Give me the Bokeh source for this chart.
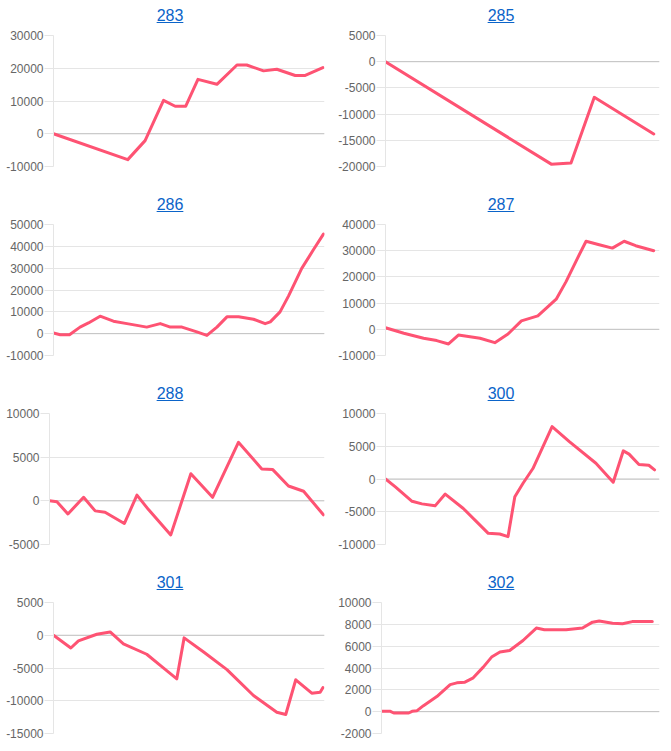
from bokeh.plotting import figure
from bokeh.layouts import column, row
from bokeh.models import Div, Range1d, FixedTicker, PrintfTickFormatter, Span
from bokeh.embed import file_html
from bokeh.resources import INLINE

# ---- data (x = position along the period, 0..100; y = cumulative value) ----
titles = ["283", "285", "286", "287", "288", "300", "301", "302"]

x_283 = [0, 27.4, 33.8, 37.5, 40.6, 44.9, 48.8, 53.3, 60.3, 67.7, 71.3, 77.5, 82.4, 89.2, 92.9, 99.4]
y_283 = [0, -7900, -2100, 4600, 10200, 8400, 8400, 16600, 15100, 21000, 21000, 19200, 19700, 17800, 17800, 20200]
ticks_283 = [-10000, 0, 10000, 20000, 30000]

x_285 = [0, 60.5, 67.7, 76.2, 97.9]
y_285 = [0, -19550, -19350, -6800, -13800]
ticks_285 = [-20000, -15000, -10000, -5000, 0, 5000]

x_286 = [0, 2.5, 5.9, 9.8, 12.9, 17.2, 22.1, 27.1, 30.8, 34.4, 39.4, 43.1, 47.4, 52.9, 56.6,
         60.3, 64.0, 68.3, 73.8, 78.1, 80.0, 83.6, 86.7, 91.6, 95.9, 99.6]
y_286 = [300, -500, -500, 3000, 4900, 8000, 5700, 4600, 3800, 3000, 4600, 3000, 3000, 800, -800,
         3000, 7700, 7700, 6600, 4600, 5400, 10000, 17200, 29900, 38400, 45600]
ticks_286 = [-10000, 0, 10000, 20000, 30000, 40000, 50000]

x_287 = [0, 6.7, 13.9, 18.7, 23.0, 26.6, 34.5, 39.9, 44.7, 49.6, 55.6, 58.6, 62.3, 65.9, 70.1,
         73.2, 78.0, 82.8, 87.1, 91.3, 97.9]
y_287 = [600, -1500, -3400, -4300, -5600, -2200, -3400, -5100, -1800, 3200, 5100, 8000, 11500,
         18200, 27200, 33600, 32300, 31000, 33600, 31900, 30000]
ticks_287 = [-10000, 0, 10000, 20000, 30000, 40000]

x_288 = [0, 2.7, 6.7, 12.4, 16.6, 20.2, 27.2, 31.8, 36.0, 44.1, 51.4, 59.3, 68.7, 77.2, 81.1,
         86.9, 92.4, 99.6]
y_288 = [0, -100, -1500, 400, -1150, -1300, -2600, 650, -1000, -3900, 3100, 400, 6700, 3650,
         3600, 1700, 1100, -1600]
ticks_288 = [-5000, 0, 5000, 10000]

x_300 = [0, 3.6, 9.7, 13.3, 18.1, 21.8, 28.4, 37.5, 41.7, 44.7, 47.2, 50.2, 53.8, 60.8, 67.1,
         76.8, 83.1, 86.8, 88.9, 92.5, 96.1, 98.2]
y_300 = [0, -1200, -3400, -3800, -4100, -2300, -4500, -8300, -8400, -8800, -2700, -650, 1600,
         8000, 5700, 2400, -500, 4300, 3800, 2200, 2100, 1400]
ticks_300 = [-10000, -5000, 0, 5000, 10000]

x_301 = [0, 6.4, 9.2, 16.0, 20.9, 25.8, 34.4, 39.4, 45.5, 48.2, 55.4, 64.0, 73.8, 82.4, 85.7,
         89.4, 95.3, 98.4, 99.4]
y_301 = [0, -1950, -870, 150, 500, -1300, -2900, -4600, -6650, -400, -2550, -5250, -9200,
         -11750, -12100, -6800, -8850, -8700, -8000]
ticks_301 = [-15000, -10000, -5000, 0, 5000]

x_302 = [0, 3.2, 4.4, 9.8, 11.0, 12.8, 15.1, 19.9, 24.7, 27.1, 30.0, 33.0, 36.6, 39.6, 42.6,
         46.1, 50.9, 55.7, 58.6, 66.4, 72.3, 75.9, 78.3, 83.1, 86.7, 90.2, 97.4]
y_302 = [30, 30, -120, -120, 30, 90, 550, 1380, 2480, 2640, 2700, 3100, 4080, 5000, 5460, 5600,
         6520, 7660, 7500, 7500, 7660, 8200, 8300, 8100, 8050, 8250, 8250]
ticks_302 = [-2000, 0, 2000, 4000, 6000, 8000, 10000]

series = [
    (x_283, y_283, ticks_283), (x_285, y_285, ticks_285),
    (x_286, y_286, ticks_286), (x_287, y_287, ticks_287),
    (x_288, y_288, ticks_288), (x_300, y_300, ticks_300),
    (x_301, y_301, ticks_301), (x_302, y_302, ticks_302),
]

# ---- styling / layout ----
LINE = "#fe5373"
GRID = "#e5e5e5"
ZERO = "#c2c2c2"
LABEL = "#666666"
LINK = "#0b64c9"
FONT = "Liberation Sans"

border_left = [53, 48, 53, 48, 49, 48, 53, 44]


def make_cell(i):
    xs, ys, ticks = series[i]
    left_col = (i % 2 == 0)
    w = 335 if left_col else 336
    pad = "padding-left:5px;" if left_col else "padding-right:4px;"
    html = (
        f'<div style="width:{w}px;height:26px;box-sizing:border-box;padding-top:7px;{pad}'
        f"text-align:center;font-family:'{FONT}',Arial,sans-serif;font-size:16px;line-height:18px;\">"
        f'<a href="#" style="color:{LINK};text-decoration:underline;">{titles[i]}</a></div>'
    )
    div = Div(text=html, width=w, height=26, margin=(0, 0, 0, 0))

    p = figure(width=w, height=163, output_backend="svg", toolbar_location=None,
               title=None, x_axis_location=None,
               x_range=Range1d(0, 100), y_range=Range1d(ticks[0], ticks[-1]),
               min_border_left=border_left[i], min_border_right=(11 if left_col else 12),
               min_border_top=9, min_border_bottom=23, margin=(0, 0, 0, 0))
    p.outline_line_color = None
    p.background_fill_color = None
    p.border_fill_color = None
    p.xgrid.visible = False

    ax = p.yaxis[0]
    ax.ticker = FixedTicker(ticks=ticks)
    ax.formatter = PrintfTickFormatter(format="%d")
    ax.axis_line_color = GRID
    ax.major_tick_line_color = GRID
    ax.major_tick_out = 9
    ax.major_tick_in = 0
    ax.minor_tick_line_color = None
    ax.major_label_standoff = 1
    ax.major_label_text_font = FONT
    ax.major_label_text_font_size = "12px"
    ax.major_label_text_color = LABEL

    p.ygrid.ticker = FixedTicker(ticks=ticks)
    p.ygrid.grid_line_color = GRID
    p.ygrid.grid_line_width = 1

    p.add_layout(Span(location=0, dimension="width", line_color=ZERO, line_width=1,
                      level="underlay"))
    p.line(xs, ys, line_color=LINE, line_width=3, line_join="round", line_cap="round")
    return column(div, p, spacing=0, margin=(0, 0, 0, 0))


cells = [make_cell(i) for i in range(8)]
rows = [row(cells[2 * r], cells[2 * r + 1], spacing=0, margin=(0, 0, 0, 0)) for r in range(4)]
layout = column(*rows, spacing=0, margin=(0, 0, 0, 0))

open("out.html", "w").write(file_html(layout, INLINE))
